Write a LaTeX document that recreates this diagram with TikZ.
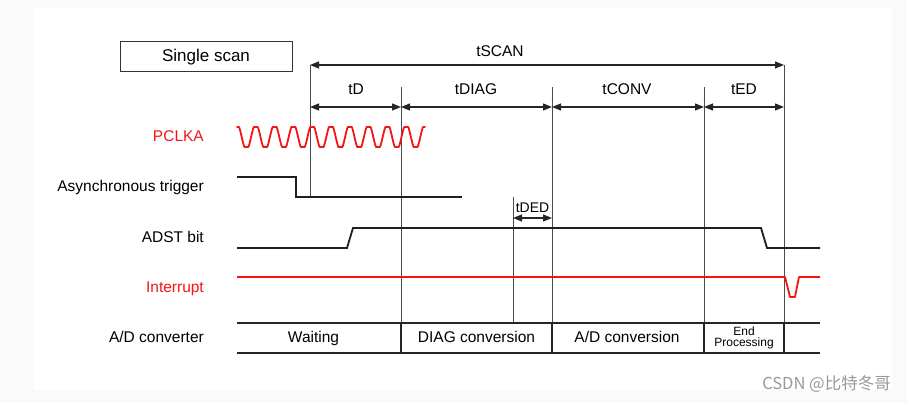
\documentclass[tikz,border=0pt]{standalone}
\usepackage{fontspec}
\setmainfont{Liberation Sans}
\newfontfamily\cjk{Noto Sans CJK SC}
\usetikzlibrary{arrows.meta}
\definecolor{sigred}{RGB}{245,20,20}
\definecolor{bggray}{RGB}{250,250,250}
\begin{document}
\begin{tikzpicture}[x=1pt,y=-1pt,
  lbl/.style={font=\fontsize{15.5}{18}\selectfont, inner sep=0pt, anchor=base east},
  ctext/.style={font=\fontsize{15.5}{18}\selectfont, inner sep=0pt, anchor=base},
  guide/.style={draw=black!70, line width=0.9pt},
  dimline/.style={draw=black!85, line width=1.2pt, {Triangle[length=9pt,width=7pt]}-{Triangle[length=9pt,width=7pt]}},
  sig/.style={draw=black!88, line width=1.8pt, line join=miter},
  redsig/.style={draw=sigred, line width=1.8pt, line join=round},
  tbl/.style={draw=black!85, line width=1.4pt}
]
\fill[bggray] (0,0) rectangle (907,403);
\fill[white] (34,8) rectangle (892,390);
\useasboundingbox (0,0) rectangle (907,403);

% Single scan box
\node[draw=black!80, line width=1pt, minimum width=172pt, minimum height=30pt, inner sep=0pt,
      font=\fontsize{17}{20}\selectfont] (ssbox) at (206,57) {Single scan};

% guide coordinates
\coordinate (g1t) at (310,65);  \coordinate (g1b) at (310,197);
\coordinate (g2t) at (401,87);  \coordinate (g2b) at (401,353);
\coordinate (g3t) at (552,87);  \coordinate (g3b) at (552,353);
\coordinate (g4t) at (704,87);  \coordinate (g4b) at (704,353);
\coordinate (g5t) at (784,65);  \coordinate (g5b) at (784,353);
\coordinate (g6t) at (513,197); \coordinate (g6b) at (513,323);

\draw[guide] (g1t) -- (g1b);
\draw[guide] (g2t) -- (g2b);
\draw[guide] (g3t) -- (g3b);
\draw[guide] (g4t) -- (g4b);
\draw[guide] (g5t) -- (g5b);
\draw[guide] (g6t) -- (g6b);

% dimension arrows
\coordinate (d1) at (310,107); \coordinate (d2) at (401,107);
\coordinate (d3) at (552,107); \coordinate (d4) at (704,107);
\coordinate (d5) at (784,107);
\coordinate (e1) at (513,218); \coordinate (e2) at (552,218);
\draw[dimline] (g1t) -- (g5t);
\draw[dimline] (d1) -- (d2);
\draw[dimline] (d2) -- (d3);
\draw[dimline] (d3) -- (d4);
\draw[dimline] (d4) -- (d5);
\draw[dimline] (e1) -- (e2);

\node[ctext] (tscan) at (500,56.5) {tSCAN};
\node[ctext] (td) at (356,95) {tD};
\node[ctext] (tdiag) at (476,95) {tDIAG};
\node[ctext] (tconv) at (627,95) {tCONV};
\node[ctext] (ted) at (744,95) {tED};
\node[ctext, font=\fontsize{14}{16}\selectfont] (tded) at (532.5,212.5) {tDED};

% signal labels
\node[lbl, text=sigred] (pclka) at (204,141.7) {PCLKA};
\node[lbl] (async) at (204,191.7) {Asynchronous trigger};
\node[lbl] (adst) at (204,242.7) {ADST bit};
\node[lbl, text=sigred] (intr) at (204,292.7) {Interrupt};
\node[lbl] (adc) at (204,342.7) {A/D converter};

% PCLKA clock (slightly flattened sine)
\draw[redsig, line cap=round] plot[domain=0:188, samples=400] ({237+\x}, {137-10*max(-1,min(1,1.3*cos(\x/18.8*360)))});

% Asynchronous trigger
\draw[sig] (237,177) -- (296,177) -- (296,197) -- (462,197);
% ADST bit
\draw[sig] (237,248) -- (347,248) -- (353,228) -- (761,228) -- (767,248) -- (820,248);
% Interrupt
\draw[redsig] (237,277) -- (785,277) -- (790,297) -- (795,297) -- (799,277) -- (820,277);

% A/D converter table
\draw[tbl] (237,323) -- (820,323);
\draw[tbl] (237,353) -- (820,353);
\foreach \xx in {401,552,704,784} \draw[tbl] (\xx,323) -- (\xx,353);

\node[ctext] (wait) at (313.5,342.7) {Waiting};
\node[ctext] (diagc) at (476.5,342.7) {DIAG conversion};
\node[ctext] (adconv) at (627,342.7) {A/D conversion};
\node[font=\fontsize{12}{11}\selectfont, align=center, inner sep=0pt] (endp) at (744,337.5) {End\\Processing};

% watermark
\node[font=\cjk\fontsize{16.5}{18}\selectfont, text=black!40, inner sep=0pt, anchor=base east] (wm) at (891,389.5) {CSDN @比特冬哥};
\end{tikzpicture}
\end{document}
